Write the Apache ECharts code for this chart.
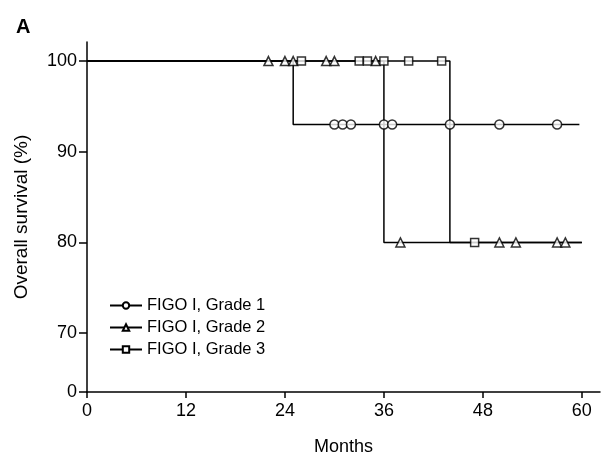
<!DOCTYPE html>
<html>
<head>
<meta charset="utf-8">
<script src="https://cdn.jsdelivr.net/npm/echarts@6/dist/echarts.min.js"></script>
<style>
  html, body { margin: 0; padding: 0; background: #fff; }
  #chart { width: 603px; height: 461px; }
</style>
</head>
<body>
<div id="chart"></div>
<script>
// step curves: time (months) and survival (%)
const grade1Times = [0, 25, 59.7];
const grade1Surv = [100, 93, 93];
const grade2Times = [0, 36, 60];
const grade2Surv = [100, 80, 80];
const grade3Times = [0, 44, 60];
const grade3Surv = [100, 80, 80];

// censored cases
const grade1CensorTimes = [30, 31, 32, 36, 37, 44, 50, 57];
const grade1CensorSurv = [93, 93, 93, 93, 93, 93, 93, 93];
const grade2CensorTimes = [22, 24, 25, 29, 30, 35, 38, 50, 52, 57, 58];
const grade2CensorSurv = [100, 100, 100, 100, 100, 100, 80, 80, 80, 80, 80];
const grade3CensorTimes = [26, 33, 34, 36, 39, 43, 47];
const grade3CensorSurv = [100, 100, 100, 100, 100, 100, 80];

const seriesNames = ['FIGO I, Grade 1', 'FIGO I, Grade 2', 'FIGO I, Grade 3'];
const xTicks = [0, 12, 24, 36, 48, 60];
const yTicks = [63.5, 70, 80, 90, 100];   // 63.5 is drawn as "0" (broken axis)
const yTickText = ['0', '70', '80', '90', '100'];

const zip = (xs, ys) => xs.map((x, i) => [x, ys[i]]);
const font = 'Liberation Sans, Arial, sans-serif';

const stepLine = (name, times, surv, symbol) => ({
    name: name,
    type: 'line',
    step: 'end',
    data: zip(times, surv),
    symbol: symbol,
    showSymbol: false,
    lineStyle: { color: '#000', width: 1.5 },
    itemStyle: { color: '#000' },
    z: 2
});

const censorMarks = (name, times, surv, symbol, size) => ({
    name: name + ' censored',
    type: 'scatter',
    data: zip(times, surv),
    symbol: symbol,
    symbolSize: size,
    itemStyle: { color: '#fff', borderColor: '#000', borderWidth: 1.5 },
    z: 3
});

const chart = echarts.init(document.getElementById('chart'));
chart.setOption({
    animation: false,
    title: {
        text: 'A',
        left: 11,
        top: 12,
        textStyle: { fontFamily: font, fontSize: 20, fontWeight: 'bold', color: '#000' }
    },
    grid: { left: 87, right: 3, top: 42, bottom: 68 },
    legend: {
        orient: 'vertical',
        left: 104,
        top: 292,
        itemWidth: 32,
        itemHeight: 8,
        itemGap: 5,
        data: seriesNames,
        textStyle: { fontFamily: font, fontSize: 16.5, color: '#000' }
    },
    xAxis: {
        type: 'value',
        min: 0,
        max: 62.2,
        name: 'Months',
        nameLocation: 'middle',
        nameGap: 46,
        nameTextStyle: { fontFamily: font, fontSize: 18, color: '#000' },
        axisLine: { lineStyle: { color: '#000', width: 1.5 } },
        axisTick: { customValues: xTicks, length: 6, lineStyle: { color: '#000', width: 1.5 } },
        axisLabel: { customValues: xTicks, fontFamily: font, fontSize: 18, color: '#000', margin: 10 },
        splitLine: { show: false }
    },
    yAxis: {
        type: 'value',
        min: 63.5,
        max: 102.1,
        name: 'Overall survival (%)',
        nameLocation: 'middle',
        nameGap: 56,
        nameTextStyle: { fontFamily: font, fontSize: 19, color: '#000' },
        axisLine: { show: true, lineStyle: { color: '#000', width: 1.5 } },
        axisTick: { show: true, customValues: yTicks, length: 8, lineStyle: { color: '#000', width: 1.5 } },
        axisLabel: {
            customValues: yTicks,
            fontFamily: font,
            fontSize: 18,
            color: '#000',
            margin: 10,
            formatter: v => yTickText[yTicks.indexOf(v)]
        },
        splitLine: { show: false }
    },
    series: [
        stepLine(seriesNames[0], grade1Times, grade1Surv, 'emptyCircle'),
        stepLine(seriesNames[1], grade2Times, grade2Surv, 'emptyTriangle'),
        stepLine(seriesNames[2], grade3Times, grade3Surv, 'emptyRect'),
        censorMarks(seriesNames[0], grade1CensorTimes, grade1CensorSurv, 'circle', 9),
        censorMarks(seriesNames[1], grade2CensorTimes, grade2CensorSurv, 'triangle', 9),
        censorMarks(seriesNames[2], grade3CensorTimes, grade3CensorSurv, 'rect', 8)
    ]
});
</script>
</body>
</html>
